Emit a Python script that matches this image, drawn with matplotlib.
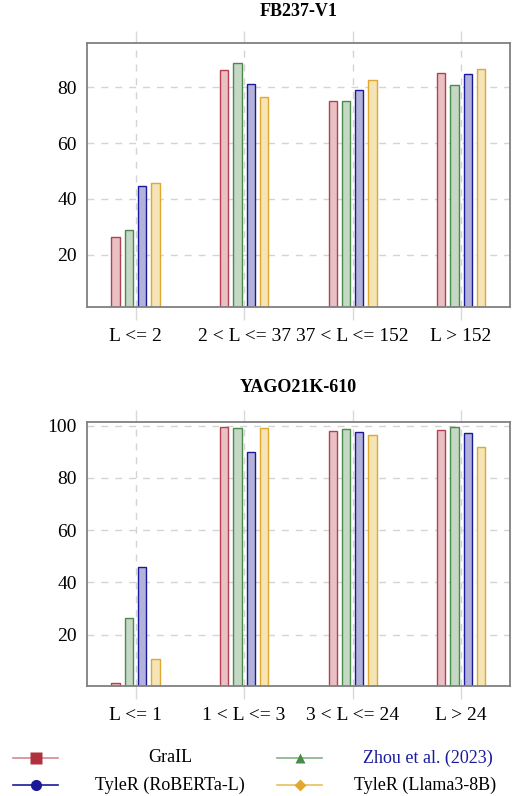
import numpy as np
import matplotlib.pyplot as plt
from matplotlib.lines import Line2D

plt.rcParams['font.family'] = ['Liberation Serif', 'DejaVu Serif']

# Data
METHODS = ['GraIL', 'Zhou et al. (2023)', 'TyleR (RoBERTa-L)', 'TyleR (Llama3-8B)']

FB_TITLE = 'FB237-V1'
FB_BINS = ['L <= 2', '2 < L <= 37', '37 < L <= 152', 'L > 152']
FB_GRAIL = [26.5, 86.1, 75.2, 85.3]
FB_ZHOU = [29.0, 88.6, 75.1, 80.9]
FB_ROBERTA = [44.5, 81.2, 79.2, 84.8]
FB_LLAMA = [45.6, 76.5, 82.5, 86.6]
FB_YTICKS = [20, 40, 60, 80]

YAGO_TITLE = 'YAGO21K-610'
YAGO_BINS = ['L <= 1', '1 < L <= 3', '3 < L <= 24', 'L > 24']
YAGO_GRAIL = [1.6, 99.6, 98.0, 98.4]
YAGO_ZHOU = [26.3, 99.0, 98.6, 99.4]
YAGO_ROBERTA = [45.8, 89.8, 97.5, 97.2]
YAGO_LLAMA = [10.7, 99.0, 96.3, 91.8]
YAGO_YTICKS = [20, 40, 60, 80, 100]

# Styles
EDGE = ['#b5404f', '#4a8a4a', '#1a1a99', '#e0a830']
FILL = ['#e9c1c5', '#c4d8c4', '#b2b2da', '#f5e4b6']
LINE = ['#d38a95', '#86b086', '#1a1a99', '#e8c060']
MARKERS = ['s', '^', 'o', 'D']
MSIZE = [8, 7, 8, 6]
TEXT_COLORS = ['black', '#1a1aa0', 'black', 'black']

BAR_W = 0.076
STEP = 0.1227

W, H = 513, 796
fig = plt.figure(figsize=(W / 100, H / 100), dpi=100)


def draw_panel(rect, title, title_y, bins, series, yticks, ylim):
    ax = fig.add_axes(rect)
    x = np.arange(len(bins))
    for i, vals in enumerate(series):
        ax.bar(x + (i - 1.5) * STEP, vals, width=BAR_W, color=FILL[i],
               edgecolor=EDGE[i], linewidth=1.0, zorder=3)
    ax.set_xlim(-0.45, len(bins) - 0.55)
    ax.set_ylim(*ylim)
    ax.set_xticks(x)
    ax.set_xticklabels(bins, fontsize=14)
    ax.set_yticks(yticks)
    ax.tick_params(axis='y', length=0, pad=7, labelsize=14)
    ax.tick_params(axis='x', length=9, width=1, color='#d9d9d9', pad=6,
                   top=True, direction='out')
    ax.grid(True, color='#d4d4d4', linestyle=(0, (5, 5)), linewidth=1, zorder=0)
    ax.set_axisbelow(True)
    for s in ax.spines.values():
        s.set_color('#808080')
        s.set_linewidth(1.3)
        s.set_zorder(4)
    fig.text(rect[0] + rect[2] / 2, title_y, title, ha='center', va='center',
             fontsize=13, fontweight='bold')
    return ax


draw_panel([86.7 / W, 1 - 307 / H, (510 - 86.7) / W, (307 - 42.7) / H],
           FB_TITLE, 1 - 12 / H, FB_BINS,
           [FB_GRAIL, FB_ZHOU, FB_ROBERTA, FB_LLAMA], FB_YTICKS, (1.3, 96))

draw_panel([86.7 / W, 1 - 686 / H, (510 - 86.7) / W, (686 - 421.7) / H],
           YAGO_TITLE, 1 - 388 / H, YAGO_BINS,
           [YAGO_GRAIL, YAGO_ZHOU, YAGO_ROBERTA, YAGO_LLAMA], YAGO_YTICKS, (0.4, 101.5))

# Legend drawn by hand so the labels sit centred in their columns
lax = fig.add_axes([0, 0, 1, 1 - 730 / H])
lax.set_xlim(0, W)
lax.set_ylim(H, 730)
lax.axis('off')
line_x = [(13, 58), (277, 322), (13, 58), (277, 322)]
text_x = [170, 428, 170, 425]
row_y = [758, 758, 785, 785]
for i, name in enumerate(METHODS):
    x0, x1 = line_x[i]
    lax.add_line(Line2D([x0, x1], [row_y[i], row_y[i]], color=LINE[i], lw=1.2))
    lax.plot([(x0 + x1) / 2], [row_y[i]], marker=MARKERS[i], ms=MSIZE[i],
             color=EDGE[i] if i != 0 else '#b03040', mec='none', linestyle='none')
    lax.text(text_x[i], row_y[i], name, ha='center', va='center',
             fontsize=13, color=TEXT_COLORS[i])

fig.savefig('out.png', dpi=100)
